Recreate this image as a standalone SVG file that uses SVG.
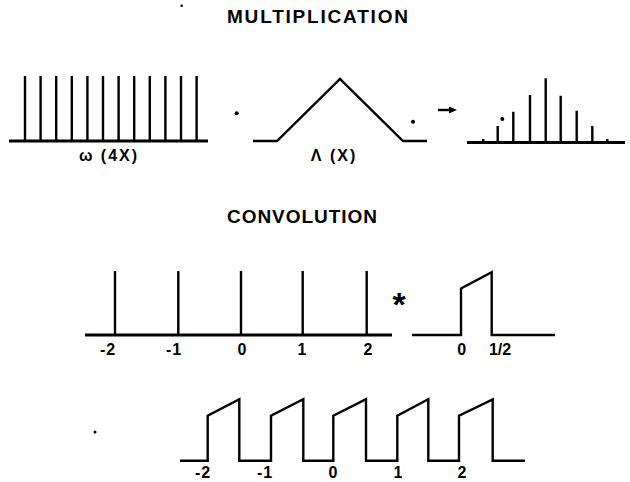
<svg xmlns="http://www.w3.org/2000/svg" width="630" height="482" viewBox="0 0 630 482">
<style>
.ln{fill:none;stroke:#000;stroke-width:2.4;stroke-linejoin:miter;stroke-linecap:butt}
.ax{fill:none;stroke:#000;stroke-width:2.8}
.t{font-family:"Liberation Sans",Arial,sans-serif;font-weight:bold;fill:#000}
.ttl{font-size:19px}
.lab{font-size:16px;text-anchor:middle}
.dot{fill:#000}
</style>
<rect width="630" height="482" fill="#fff"/>
<g id="titles">
<text class="t ttl" x="227" y="23" textLength="181" lengthAdjust="spacing">MULTIPLICATION</text>
<text class="t ttl" x="227" y="223" textLength="150" lengthAdjust="spacing">CONVOLUTION</text>
</g>
<g id="comb4x">
<line class="ax" x1="9" y1="141" x2="208" y2="141"/>
<path class="ln" d="M25 76V141M40.6 76V141M56.2 76V141M71.8 76V141M87.4 76V141M103 76V141M118.6 76V141M134.2 76V141M149.8 76V141M165.4 76V141M181 76V141M196.6 76V141"/>
<text class="t lab" x="109" y="161" letter-spacing="2">ω (4X)</text>
</g>
<circle class="dot" cx="236.7" cy="113.3" r="2"/>
<g id="triangle">
<polyline class="ln" points="253,141 277,141 340,79 403,141 427,141"/>
<text class="t lab" x="334" y="161" letter-spacing="2">Λ (X)</text>
</g>
<circle class="dot" cx="413" cy="121.7" r="2"/>
<g id="product">
<line class="ax" x1="467" y1="142.5" x2="625" y2="142.5"/>
<path class="ln" d="M483.3 139V142.5M497.7 126V142.5M513.3 111.7V142.5M530 95V142.5M545.7 78.3V142.5M560.7 95.7V142.5M576.7 110.7V142.5M592.3 126V142.5M607.3 139V142.5"/>
<circle class="dot" cx="502.3" cy="119" r="2"/>
</g>
<g id="connectors">
<line x1="438" y1="110" x2="450" y2="110" stroke="#000" stroke-width="2.4"/>
<polygon points="449,106.5 457,110 449,113.5" fill="#000"/>
</g>
<g id="comb">
<line class="ax" x1="85" y1="335" x2="392" y2="335"/>
<path class="ln" d="M115 271V335M178.3 271V335M241 271V335M302.7 271V335M366.7 271V335"/>
<text class="t lab" x="108" y="355" letter-spacing="1">-2</text>
<text class="t lab" x="174" y="355" letter-spacing="1">-1</text>
<text class="t lab" x="242" y="355">0</text>
<text class="t lab" x="302" y="355">1</text>
<text class="t lab" x="368" y="355">2</text>
</g>
<text class="t" x="399" y="316" font-size="34" text-anchor="middle">*</text>
<g id="pulse">
<polyline class="ln" points="412,335 461,335 461,288.5 491.7,272.3 491.7,335 555,335"/>
<text class="t lab" x="461.7" y="355">0</text>
<text class="t lab" x="500" y="355">1/2</text>
</g>
<g id="result">
<polyline class="ln" points="180,460.7 207.7,460.7 207.7,415.7 239.3,399.3 239.3,460.7 271,460.7 271,415.7 303.3,399.3 303.3,460.7 333.3,460.7 333.3,415.7 366,399.3 366,460.7 397.3,460.7 397.3,415.7 428.3,399.3 428.3,460.7 459,460.7 459,415.7 492.7,399.3 492.7,460.7 525,460.7"/>
<text class="t lab" x="203" y="478" letter-spacing="1">-2</text>
<text class="t lab" x="265" y="478" letter-spacing="1">-1</text>
<text class="t lab" x="333" y="478">0</text>
<text class="t lab" x="398" y="478">1</text>
<text class="t lab" x="462" y="478">2</text>
</g>
<circle class="dot" cx="95" cy="432" r="1.5"/>
<circle class="dot" cx="181.7" cy="5.7" r="1.3"/>
</svg>
